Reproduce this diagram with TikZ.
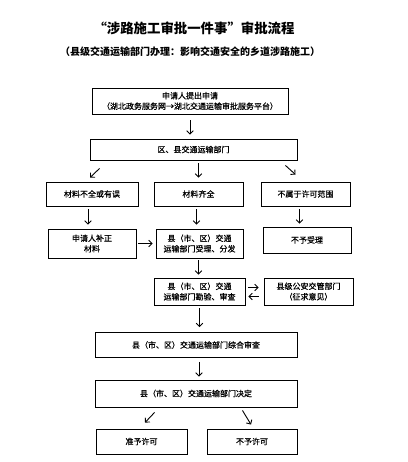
\documentclass[tikz,border=0pt]{standalone}
\usepackage{fontspec}
\setmainfont{Noto Sans CJK SC}
\newfontfamily\medfont[FakeBold=0.6]{Noto Sans CJK SC}
\usetikzlibrary{arrows.meta}
\tikzset{
  box/.style={draw, line width=0.9pt, inner sep=0pt, align=center, font=\medfont\fontsize{8}{10.5}\selectfont},
  arr/.style={line width=0.9pt, -{Straight Barb[length=3.2pt,width=6.5pt]}},
}
\begin{document}
\begin{tikzpicture}[x=1pt,y=-1pt]
\useasboundingbox[fill=white] (0,0) rectangle (407,462);
\node (title) at (194,28) {\fontsize{13.4}{15}\selectfont\bfseries “涉路施工审批一件事”审批流程};
\node (sub) at (190,52) {\fontsize{10}{12}\selectfont\bfseries （县级交通运输部门办理：影响交通安全的乡道涉路施工）};

\node[box, minimum width=196pt, minimum height=26pt] (n1) at (190,101) {申请人提出申请\\（湖北政务服务网→湖北交通运输审批服务平台）};
\node[box, minimum width=207pt, minimum height=21pt] (n2) at (193.5,149.5) {区、县交通运输部门};

\node[box, minimum width=92pt, minimum height=24pt] (a1) at (92,194) {材料不全或有误};
\node[box, minimum width=89pt, minimum height=24pt] (a2) at (198.5,194) {材料齐全};
\node[box, minimum width=89pt, minimum height=24pt] (a3) at (305.5,194) {不属于许可范围};

\node[box, minimum width=88pt, minimum height=29pt] (b1) at (92,243.5) {申请人补正\\材料};
\node[box, minimum width=87pt, minimum height=29pt] (b2) at (199.5,243.5) {县（市、区）交通\\运输部门受理、分发};
\node[box, minimum width=88pt, minimum height=26pt] (b3) at (307,240) {不予受理};

\node[box, minimum width=91pt, minimum height=27pt] (c1) at (199.5,291.5) {县（市、区）交通\\运输部门勘验、审查};
\node[box, minimum width=89pt, minimum height=27pt] (c2) at (308.5,291.5) {县级公安交管部门\\（征求意见）};

\node[box, minimum width=202pt, minimum height=25pt] (d) at (196,345) {县（市、区）交通运输部门综合审查};
\node[box, minimum width=202pt, minimum height=27pt] (e) at (196,393.5) {县（市、区）交通运输部门决定};

\node[box, minimum width=91pt, minimum height=25pt] (f1) at (141.5,441.5) {准予许可};
\node[box, minimum width=90pt, minimum height=25pt] (f2) at (252,441.5) {不予许可};

% arrows
\draw[arr, shorten <=6pt, shorten >=4pt] (n1.south) -- (n1.south |- n2.north);

\coordinate (l1) at ([xshift=10pt,yshift=-8pt]n2.south west);
\coordinate (l2) at ([xshift=-2pt,yshift=4pt]a1.north);
\draw[arr] (l1) -- (l2);
\draw[arr, shorten <=3pt, shorten >=4pt] (a2.north |- n2.south) -- (a2.north);
\coordinate (r1) at ([xshift=-12pt,yshift=-5pt]n2.south east);
\coordinate (r2) at ([xshift=-10pt,yshift=7pt]a3.north);
\draw[arr] (r1) -- (r2);

\draw[arr, shorten <=3pt, shorten >=4pt] ([xshift=-4pt]a1.south) -- ([xshift=-4pt]a1.south |- b1.north);
\draw[arr, shorten <=3pt, shorten >=4pt] ([xshift=-2pt]a2.south) -- ([xshift=-2pt]a2.south |- b2.north);
\coordinate (r3) at ([xshift=-6pt]a3.south);
\draw[arr, shorten <=3pt, shorten >=3pt] (r3) -- (r3 |- b3.north);

\draw[arr, shorten <=2pt, shorten >=3pt] (b1.east) -- (b2.west);
\draw[arr, shorten <=2pt, shorten >=3pt] ([xshift=-1pt]b2.south) -- ([xshift=-1pt]b2.south |- c1.north);

\draw[arr, shorten <=3pt, shorten >=5pt] ([yshift=4pt]c1.east) -- ([yshift=4pt]c2.west);
\draw[arr, shorten <=5pt, shorten >=3pt] ([yshift=-5pt]c2.west) -- ([yshift=-5pt]c1.east);

\draw[arr, shorten <=3pt, shorten >=5pt] (c1.south) -- (c1.south |- d.north);
\coordinate (m1) at ([xshift=3pt]d.south);
\draw[arr, shorten <=4pt, shorten >=3pt] (m1) -- (m1 |- e.north);

\coordinate (l3) at ([xshift=60pt,yshift=-5pt]e.south west);
\coordinate (l4) at ([xshift=3.5pt,yshift=6pt]f1.north);
\draw[arr] (l3) -- (l4);
\coordinate (r4) at ([xshift=-55pt,yshift=-3pt]e.south east);
\coordinate (r5) at ([xshift=-1pt,yshift=4pt]f2.north);
\draw[arr] (r4) -- (r5);
\end{tikzpicture}
\end{document}
